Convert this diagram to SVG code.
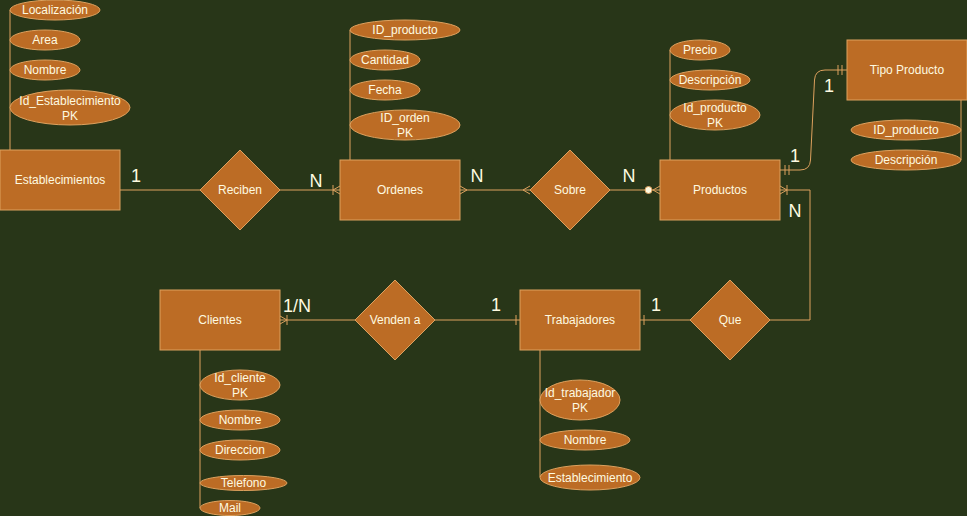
<svg xmlns="http://www.w3.org/2000/svg" width="967" height="516" viewBox="0 0 967 516">
<style>
.bg{fill:#283618}
.ent,.rel,.att{fill:#BC6C25;stroke:#DDA15E;stroke-width:1}
.t{font-family:"Liberation Sans",Arial,sans-serif;font-size:12px;fill:#FEFAE0;text-anchor:middle}
.c{font-family:"Liberation Sans",Arial,sans-serif;font-size:18px;fill:#FEFAE0;text-anchor:middle}
.ln{fill:none;stroke:#DDA15E;stroke-width:1}
.mk{fill:none;stroke:#DDA15E;stroke-width:1}
</style>
<defs>
<marker id="many" markerUnits="userSpaceOnUse" markerWidth="20" markerHeight="20" refX="0" refY="0" orient="auto-start-reverse" overflow="visible"><path class="mk" d="M-7,0 L0,-4 M-7,0 L0,4"/></marker>
<marker id="oneMany" markerUnits="userSpaceOnUse" markerWidth="20" markerHeight="20" refX="0" refY="0" orient="auto-start-reverse" overflow="visible"><path class="mk" d="M-7,0 L0,-4 M-7,0 L0,4 M-7,-5 L-7,5"/></marker>
<marker id="zeroMany" markerUnits="userSpaceOnUse" markerWidth="20" markerHeight="20" refX="0" refY="0" orient="auto-start-reverse" overflow="visible"><path class="mk" d="M-7,0 L0,-4 M-7,0 L0,4"/><circle cx="-11.5" cy="0" r="3.5" fill="#FEFAE0" stroke="#DDA15E" stroke-width="1"/></marker>
<marker id="mandOne" markerUnits="userSpaceOnUse" markerWidth="20" markerHeight="20" refX="0" refY="0" orient="auto-start-reverse" overflow="visible"><path class="mk" d="M-5,-5 L-5,5 M-9,-5 L-9,5"/></marker>
<marker id="one" markerUnits="userSpaceOnUse" markerWidth="20" markerHeight="20" refX="0" refY="0" orient="auto-start-reverse" overflow="visible"><path class="mk" d="M-4,-5 L-4,5"/></marker>
</defs>
<rect class="bg" x="0" y="0" width="967" height="516"/>

<g id="connectors">
<line class="ln" x1="10" y1="10" x2="10" y2="150"/>
<line class="ln" x1="350" y1="30" x2="350" y2="160"/>
<line class="ln" x1="670" y1="50" x2="670" y2="160"/>
<line class="ln" x1="961" y1="100" x2="961" y2="160"/>
<line class="ln" x1="200" y1="350" x2="200" y2="508"/>
<line class="ln" x1="540" y1="350" x2="540" y2="477"/>
<line class="ln" x1="120" y1="190" x2="200" y2="190" stroke-width="2"/>
<path class="ln" d="M280,190 L340,190" marker-end="url(#oneMany)"/>
<path class="ln" d="M460,190 L530,190" marker-start="url(#many)" marker-end="url(#many)"/>
<path class="ln" d="M610,190 L660,190" marker-end="url(#zeroMany)"/>
<path class="ln" d="M780,170 L800,170 Q810,170 810.5,160 L814.5,80 Q815,70 825,70 L847,70" marker-start="url(#mandOne)" marker-end="url(#mandOne)"/>
<path class="ln" d="M770,320 L810,320 L810,190 L780,190" marker-end="url(#oneMany)"/>
<path class="ln" d="M690,320 L640,320" marker-end="url(#one)"/>
<path class="ln" d="M435,320 L520,320" marker-end="url(#one)"/>
<path class="ln" d="M355,320 L280,320" marker-end="url(#oneMany)"/>
<text class="c" x="136" y="182">1</text>
<text class="c" x="316" y="187">N</text>
<text class="c" x="477" y="182">N</text>
<text class="c" x="629" y="182">N</text>
<text class="c" x="795" y="162">1</text>
<text class="c" x="829" y="92">1</text>
<text class="c" x="795" y="217">N</text>
<text class="c" x="297" y="312">1/N</text>
<text class="c" x="496" y="311">1</text>
<text class="c" x="656" y="311">1</text>
</g>

<g id="establecimientos"><rect class="ent" x="0" y="150" width="120" height="60"/><text class="t" x="60" y="184">Establecimientos</text></g>
<g id="attr-localizacion"><ellipse class="att" cx="55" cy="10" rx="45" ry="10"/><text class="t" x="55" y="14">Localización</text></g>
<g id="attr-area"><ellipse class="att" cx="45" cy="40" rx="35" ry="10"/><text class="t" x="45" y="44">Area</text></g>
<g id="attr-nombre-est"><ellipse class="att" cx="45" cy="70" rx="35" ry="10"/><text class="t" x="45" y="74">Nombre</text></g>
<g id="attr-id-est"><ellipse class="att" cx="70" cy="107.5" rx="60" ry="17.5"/><text class="t" x="70" y="105">Id_Establecimiento</text><text class="t" x="70" y="120">PK</text></g>

<g id="reciben"><polygon class="rel" points="240,150 280,190 240,230 200,190"/><text class="t" x="240" y="194">Reciben</text></g>

<g id="ordenes"><rect class="ent" x="340" y="160" width="120" height="60"/><text class="t" x="400" y="194">Ordenes</text></g>
<g id="attr-id-producto-ord"><ellipse class="att" cx="405" cy="30" rx="55" ry="10"/><text class="t" x="405" y="34">ID_producto</text></g>
<g id="attr-cantidad"><ellipse class="att" cx="385" cy="60" rx="35" ry="10"/><text class="t" x="385" y="64">Cantidad</text></g>
<g id="attr-fecha"><ellipse class="att" cx="385" cy="90" rx="35" ry="10"/><text class="t" x="385" y="94">Fecha</text></g>
<g id="attr-id-orden"><ellipse class="att" cx="405" cy="125" rx="55" ry="15"/><text class="t" x="405" y="122">ID_orden</text><text class="t" x="405" y="137">PK</text></g>

<g id="sobre"><polygon class="rel" points="570,150 610,190 570,230 530,190"/><text class="t" x="570" y="194">Sobre</text></g>

<g id="productos"><rect class="ent" x="660" y="160" width="120" height="60"/><text class="t" x="720" y="194">Productos</text></g>
<g id="attr-precio"><ellipse class="att" cx="700" cy="50" rx="30" ry="10"/><text class="t" x="700" y="54">Precio</text></g>
<g id="attr-descripcion-prod"><ellipse class="att" cx="710" cy="80" rx="40" ry="10"/><text class="t" x="710" y="84">Descripción</text></g>
<g id="attr-id-producto"><ellipse class="att" cx="715" cy="115" rx="45" ry="15"/><text class="t" x="715" y="112">Id_producto</text><text class="t" x="715" y="127">PK</text></g>

<g id="tipo-producto"><rect class="ent" x="847" y="40" width="120" height="60"/><text class="t" x="907" y="74">Tipo Producto</text></g>
<g id="attr-id-producto-tipo"><ellipse class="att" cx="906" cy="130" rx="55" ry="10"/><text class="t" x="906" y="134">ID_producto</text></g>
<g id="attr-descripcion-tipo"><ellipse class="att" cx="906" cy="160" rx="55" ry="10"/><text class="t" x="906" y="164">Descripción</text></g>

<g id="clientes"><rect class="ent" x="160" y="290" width="120" height="60"/><text class="t" x="220" y="324">Clientes</text></g>
<g id="attr-id-cliente"><ellipse class="att" cx="240" cy="385" rx="40" ry="15"/><text class="t" x="240" y="382">Id_cliente</text><text class="t" x="240" y="397">PK</text></g>
<g id="attr-nombre-cli"><ellipse class="att" cx="240" cy="420" rx="40" ry="10"/><text class="t" x="240" y="424">Nombre</text></g>
<g id="attr-direccion"><ellipse class="att" cx="240" cy="450" rx="40" ry="10"/><text class="t" x="240" y="454">Direccion</text></g>
<g id="attr-telefono"><ellipse class="att" cx="243.5" cy="483" rx="43.5" ry="7.5"/><text class="t" x="243.5" y="487">Telefono</text></g>
<g id="attr-mail"><ellipse class="att" cx="230" cy="508" rx="30" ry="7.5"/><text class="t" x="230" y="512">Mail</text></g>

<g id="venden-a"><polygon class="rel" points="395,280 435,320 395,360 355,320"/><text class="t" x="395" y="324">Venden a</text></g>

<g id="trabajadores"><rect class="ent" x="520" y="290" width="120" height="60"/><text class="t" x="580" y="324">Trabajadores</text></g>
<g id="attr-id-trabajador"><ellipse class="att" cx="580" cy="400" rx="40" ry="20"/><text class="t" x="580" y="397">Id_trabajador</text><text class="t" x="580" y="412">PK</text></g>
<g id="attr-nombre-trab"><ellipse class="att" cx="585" cy="440" rx="45" ry="10"/><text class="t" x="585" y="444">Nombre</text></g>
<g id="attr-establecimiento"><ellipse class="att" cx="590" cy="477.5" rx="50" ry="12.5"/><text class="t" x="590" y="481.5">Establecimiento</text></g>

<g id="que"><polygon class="rel" points="730,280 770,320 730,360 690,320"/><text class="t" x="730" y="324">Que</text></g>
</svg>
